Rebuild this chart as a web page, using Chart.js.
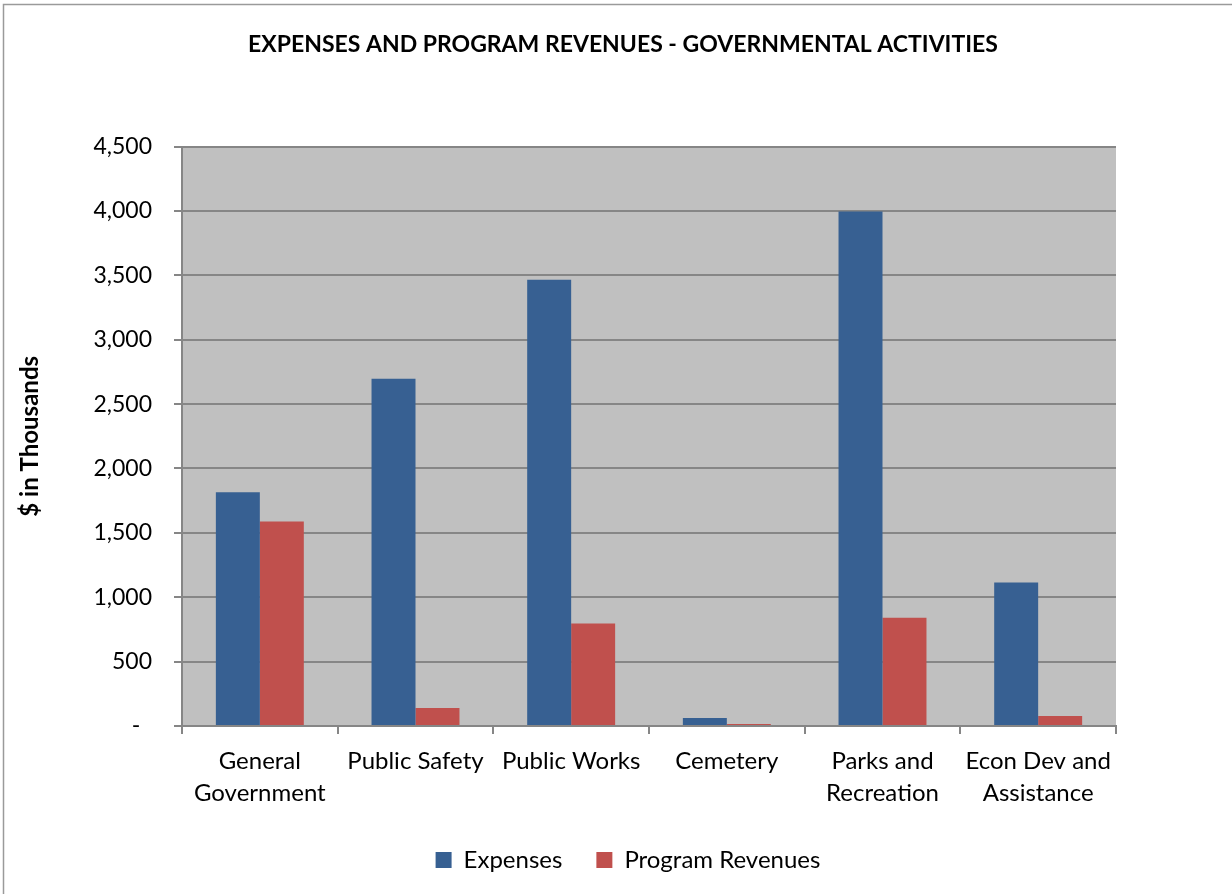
<!DOCTYPE html>
<html>
<head>
<meta charset="utf-8">
<script src="https://cdn.jsdelivr.net/npm/chart.js@4"></script>
<style>
  html, body { margin:0; padding:0; background:#fff; }
  #wrap { width:1232px; height:894px; }
</style>
</head>
<body>
<div id="wrap"><canvas id="c" width="1232" height="894"></canvas></div>
<script>
const categories = [['General','Government'], 'Public Safety', 'Public Works', 'Cemetery', ['Parks and','Recreation'], ['Econ Dev and','Assistance']];
const expenses = [1815, 2697, 3466, 62, 3995, 1114];
const programRevenues = [1589, 140, 796, 15, 841, 78];
const yTicks = [0, 500, 1000, 1500, 2000, 2500, 3000, 3500, 4000, 4500];

const FONT = 'Lato, "Open Sans", sans-serif';

// grey plot background + thin frame around the whole chart
const frame = {
  id: 'frame',
  afterLayout(chart) {
    // title and legend are centred under the plot rather than the whole canvas
    const lg = chart.legend;
    if (lg) { lg.left = 140; lg.width = lg.right - lg.left; }
    const tb = chart.titleBlock;
    if (tb) { tb.left = 130; tb.width = tb.right - tb.left; }
  },
  beforeDraw(chart) {
    const { ctx, chartArea: a } = chart;
    ctx.save();
    ctx.fillStyle = '#fff';
    ctx.fillRect(0, 0, chart.width, chart.height);
    ctx.fillStyle = '#c0c0c0';
    ctx.fillRect(a.left, a.top, a.right - a.left, a.bottom - a.top);
    ctx.strokeStyle = '#9a9a9a';
    ctx.lineWidth = 1.5;
    ctx.strokeRect(3.5, 4.5, chart.width + 10, chart.height + 10);
    ctx.restore();
  }
};

new Chart(document.getElementById('c'), {
  type: 'bar',
  data: {
    labels: categories,
    datasets: [
      { label: 'Expenses', data: expenses, backgroundColor: '#376092' },
      { label: 'Program Revenues', data: programRevenues, backgroundColor: '#c0504d' }
    ]
  },
  options: {
    responsive: false,
    animation: false,
    layout: { padding: { left: 12, right: 116, top: 0, bottom: 12 } },
    datasets: { bar: { categoryPercentage: 0.565, barPercentage: 1.0 } },
    plugins: {
      title: {
        display: true,
        text: 'EXPENSES AND PROGRAM REVENUES - GOVERNMENTAL ACTIVITIES',
        color: '#000',
        font: { family: FONT, size: 23, weight: 'bold' },
        padding: { top: 31, bottom: 88 }
      },
      legend: {
        position: 'bottom',
        labels: {
          color: '#000',
          font: { family: FONT, size: 24 },
          boxWidth: 16, boxHeight: 16, padding: 34
        }
      },
      tooltip: { enabled: false }
    },
    scales: {
      x: {
        grid: { drawOnChartArea: false, drawTicks: true, tickLength: 8, color: '#868686', lineWidth: 2, offset: true },
        border: { color: '#868686', width: 2 },
        ticks: { color: '#000', font: { family: FONT, size: 24, lineHeight: 1.33 }, padding: 11, maxRotation: 0, autoSkip: false },
        afterFit(s) { s.height = 88; }
      },
      y: {
        min: 0, max: 4500,
        afterBuildTicks(s) { s.ticks = yTicks.map(v => ({ value: v })); },
        grid: { color: '#868686', lineWidth: 2, tickLength: 8 },
        border: { color: '#868686', width: 2 },
        ticks: {
          color: '#000', font: { family: FONT, size: 23 }, padding: 22,
          callback: v => v === 0 ? '-  ' : v.toLocaleString('en-US')
        },
        title: {
          display: true, text: '$ in Thousands', color: '#000',
          font: { family: FONT, size: 24, weight: 'bold' }, padding: { top: 4, bottom: 40 }
        },
        afterFit(s) { s.width = 170; }
      }
    }
  },
  plugins: [frame]
});
</script>
</body>
</html>
